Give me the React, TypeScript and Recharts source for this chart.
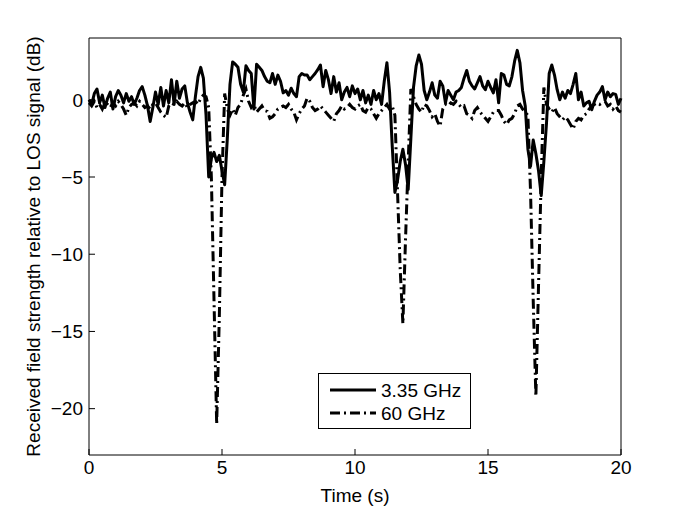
import { LineChart, Line, XAxis, YAxis, Legend, Label } from 'recharts';

// samples every 0.1 s from 0 to 20 s
const sampleStep = 0.1;

const ghz335 = [
  0.0, -0.3, 0.4, 0.7, -0.2, 0.3, -0.5, 0.1, 0.5, -0.6,
  0.2, 0.6, 0.3, -0.2, 0.4, -0.1, 0.2, -0.3, 0.1, 0.6,
  0.85, 0.3, -0.4, -1.4, -0.5, 0.5, -0.3, 0.8, -0.4, 0.6,
  -0.2, 1.3, -0.3, 1.2, 0.1, 0.7, 0.9, -0.2, -0.8, -1.3,
  0.2, 1.5, 2.1, 1.4, -1.0, -5.0, -3.8, -3.4, -4.0, -3.6,
  -4.6, -5.5, -2.5, 1.0, 2.45, 2.3, 2.1, 1.0, 0.5, 2.2,
  1.9, 1.7, -0.6, 2.3, 2.1, 1.9, 1.5, 1.2, 1.1, 1.7,
  1.0, 1.6, 1.2, 0.45, 0.6, 0.3, 0.75, 0.4, 0.2, 1.5,
  1.7, 1.6, 1.6, 1.3, 1.5, 1.7, 1.95, 2.25, 0.85, 1.9,
  1.3, 0.4, 1.5, 0.5, 1.1, 0.0, 0.5, 0.8, 0.2, 0.9,
  0.4, 0.7, 0.0, 0.6, -0.2, 0.3, -0.3, 0.6, 0.0, 0.4,
  -0.3, 1.2, 2.4, 0.5, -3.0, -6.0, -5.2, -4.0, -3.2, -4.2,
  -5.8, -2.5, 0.8, 2.2, 2.9, 2.3, 0.6, 0.0, 0.5, 1.1,
  0.3, 0.1, 1.2, 0.9, -0.2, 0.6, 0.3, 0.0, 0.5, 0.6,
  0.8, 1.4, 1.9, 1.2, 0.9, 0.7, 1.1, 1.5, 0.9, 0.65,
  1.2, 0.8, 0.45, 1.3, -0.2, 1.7, 1.6, 1.0, 0.9, 1.5,
  2.5, 3.2, 2.4, 0.6, -0.4, -3.2, -4.3, -2.6, -3.5, -4.6,
  -6.2, -4.0, -1.5, 1.7, 2.25, 1.6, 0.65, 0.0, 0.5, 0.1,
  0.6, 0.4, 1.0, 1.7, 0.0, 0.5, -0.4, -0.2, -0.1, -0.65,
  -0.1, 0.3, 0.5, 0.85, 0.0, 0.5, 0.2, 0.4, 0.35, -0.3,
  0.1,
];

const ghz60 = [
  -0.2, -0.4, -0.1, -0.5, -0.3, -0.6, -0.2, -0.3, -0.5, -0.2,
  -0.4, -0.1, -0.3, -0.6, -1.0, -0.5, -0.3, -0.2, -0.4, -0.1,
  -0.3, -0.5, -0.4, -0.6, -0.3, -0.2, -0.5, -0.8, -1.0, -1.15,
  -0.4, -0.2, -0.3, -0.1, -0.3, -0.4, -0.2, -0.5, -0.3, -0.2,
  -0.1, -0.3, 0.1, 0.3, 0.2, -0.5, -5, -13, -21, -14,
  -5, 0.4, -0.6, -1.0, -0.6, -1.0, -0.5, -0.3, 0.3, 0.7,
  -0.1, -0.5, -0.3, -0.8, -0.6, -0.4, -0.7, -0.75, -1.2, -1.1,
  -0.9, -0.6, -0.5, -0.4, -0.5, -0.3, -0.6, -0.8, -1.3, -0.9,
  -0.6, -0.4, 0.1, -0.1, -0.5, -0.7, -0.6, -0.4, -0.6, -0.8,
  -1.0, -1.2, -1.4, -0.9, -0.7, -0.4, -0.6, -0.5, -0.3, -0.5,
  -0.6, -0.4, -0.3, -0.7, -0.8, -0.5, -0.6, -0.9, -1.2, -0.9,
  -0.7, -0.5, -0.3, -0.6, -0.4, -1.0, -6, -11, -14.5, -9,
  -4, 0.7, 0.2, -0.3, -0.6, -0.8, -0.3, -0.4, -0.7, -1.1,
  -0.9, -1.4, -1.7, -0.6, -0.3, -0.4, -0.2, -0.3, -0.1, -0.3,
  -0.5, -0.4, -0.9, -1.0, -1.2, -0.7, -0.5, -0.8, -1.0, -1.2,
  -1.4, -1.1, -0.8, -0.7, -0.7, -1.0, -1.4, -1.6, -1.3, -1.2,
  -0.9, -0.4, -0.3, -0.6, -0.8, -1.0, -6, -13, -19.2, -12,
  -5, 0.8, -0.3, -0.6, -0.8, -0.5, -0.9, -1.1, -1.3, -1.1,
  -1.3, -1.6, -1.9, -1.4, -1.2, -1.3, -1.0, -0.9, -0.6, -0.4,
  -0.3, -0.2, -0.3, -0.2, -0.1, -0.4, -0.3, -0.6, -0.4, -0.7,
  -0.8,
];

const xTicks = [0, 5, 10, 15, 20];
const yTicks = [-20, -15, -10, -5, 0];

const data = ghz335.map((v, i) => ({
  t: Number((i * sampleStep).toFixed(1)),
  a: v,
  b: ghz60[i],
}));

const FONT = '"Liberation Sans", Arial, Helvetica, sans-serif';
const DASHDOT = '10 4 2 4';

const fmt = (v: number) => (v < 0 ? `\u2212${-v}` : `${v}`);

const LegendBox = () => (
  <svg width={153} height={56} style={{ display: 'block' }}>
    <rect x={0.5} y={0.5} width={152} height={55} fill="#fff" stroke="#000" />
    <line x1={12} y1={17} x2={58} y2={17} stroke="#000" strokeWidth={3} />
    <text x={63} y={17} dominantBaseline="central" fontSize={19} fontFamily={FONT} fill="#000">3.35 GHz</text>
    <line x1={12} y1={40} x2={58} y2={40} stroke="#000" strokeWidth={3} strokeDasharray={DASHDOT} />
    <text x={63} y={40} dominantBaseline="central" fontSize={19} fontFamily={FONT} fill="#000">60 GHz</text>
  </svg>
);

export default function App() {
  const tickStyle = { fontSize: 19, fontFamily: FONT, fill: '#000' };
  return (
    <div style={{ position: 'absolute', left: 0, top: 0, background: '#fff' }}>
      <LineChart
        width={685}
        height={513}
        data={data}
        margin={{ top: 37, right: 63, bottom: 0, left: 20 }}
      >
        <XAxis
          xAxisId="b"
          dataKey="t"
          type="number"
          domain={[0, 20]}
          ticks={xTicks}
          height={58}
          stroke="#000"
          tickSize={-6}
          tickMargin={12}
          tick={tickStyle}
        >
          <Label value="Time (s)" position="insideBottom" offset={11} style={{ fontSize: 19, fontFamily: FONT, fill: '#000' }} />
        </XAxis>
        <XAxis
          xAxisId="top"
          dataKey="t"
          type="number"
          orientation="top"
          domain={[0, 20]}
          ticks={xTicks}
          height={1}
          stroke="#000"
          tickSize={-6}
          tick={false}
        />
        <YAxis
          yAxisId="l"
          type="number"
          domain={[-23, 4]}
          ticks={yTicks}
          width={69}
          stroke="#000"
          tickSize={-6}
          tickMargin={12}
          tick={tickStyle}
          tickFormatter={fmt}
          label={{
            content: ({ viewBox }: any) => {
              const x = viewBox.x + 13;
              const y = viewBox.y + viewBox.height / 2;
              return (
                <text
                  x={x}
                  y={y}
                  transform={`rotate(-90, ${x}, ${y})`}
                  textAnchor="middle"
                  dominantBaseline="central"
                  fontSize={19}
                  fontFamily={FONT}
                  fill="#000"
                >
                  Received field strength relative to LOS signal (dB)
                </text>
              );
            },
          }}
        />
        <YAxis
          yAxisId="r"
          type="number"
          orientation="right"
          domain={[-23, 4]}
          ticks={yTicks}
          width={1}
          stroke="#000"
          tickSize={-6}
          tick={false}
        />
        <Legend
          layout="vertical"
          align="center"
          verticalAlign="middle"
          content={() => <LegendBox />}
          wrapperStyle={{ left: 318, top: 373, width: 153, height: 56 }}
        />
        {/* invisible copy so the top and right box axes are in use */}
        <Line
          xAxisId="top"
          yAxisId="r"
          type="linear"
          dataKey="a"
          stroke="none"
          legendType="none"
          dot={false}
          activeDot={false}
          isAnimationActive={false}
        />
        <Line
          xAxisId="b"
          yAxisId="l"
          type="linear"
          dataKey="a"
          name="3.35 GHz"
          stroke="#000"
          strokeWidth={3}
          strokeLinejoin="round"
          dot={false}
          isAnimationActive={false}
        />
        <Line
          xAxisId="b"
          yAxisId="l"
          type="linear"
          dataKey="b"
          name="60 GHz"
          stroke="#000"
          strokeWidth={3}
          strokeDasharray={DASHDOT}
          dot={false}
          isAnimationActive={false}
        />
      </LineChart>
    </div>
  );
}
